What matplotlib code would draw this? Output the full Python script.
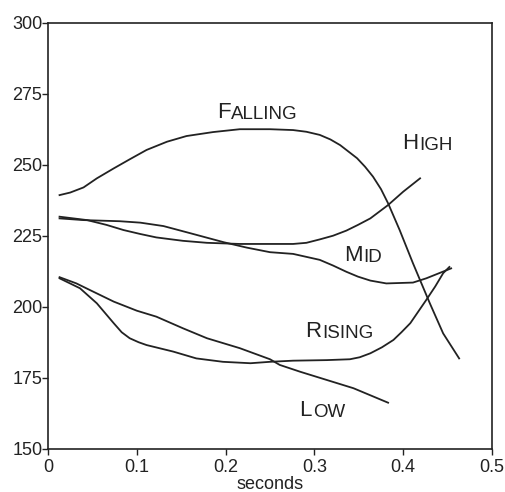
import numpy as np
import matplotlib
matplotlib.use('Agg')
import matplotlib.pyplot as plt

plt.rcParams['font.family'] = ['Liberation Sans', 'DejaVu Sans']

# pitch tracks (seconds, Hz)
falling_t = [0.013, 0.025, 0.040, 0.055, 0.074, 0.092, 0.111, 0.134, 0.156, 0.186, 0.216,
             0.250, 0.276, 0.291, 0.306, 0.318, 0.329, 0.348, 0.357, 0.366, 0.375, 0.383,
             0.396, 0.411, 0.430, 0.445, 0.463]
falling_f = [239.4, 240.3, 242.1, 245.3, 248.8, 252.0, 255.3, 258.2, 260.2, 261.6, 262.6,
             262.6, 262.3, 261.7, 260.6, 259.0, 257.0, 252.4, 249.4, 245.9, 241.5, 236.5,
             227.1, 215.4, 201.3, 190.7, 181.9]

high_t = [0.013, 0.044, 0.066, 0.085, 0.104, 0.122, 0.152, 0.179, 0.216, 0.250, 0.276,
          0.291, 0.306, 0.321, 0.336, 0.349, 0.363, 0.383, 0.400, 0.419]
high_f = [231.8, 230.6, 228.9, 227.1, 225.7, 224.5, 223.3, 222.6, 222.2, 222.2, 222.2,
          222.6, 223.8, 225.1, 226.9, 228.9, 231.2, 235.9, 240.6, 245.3]

mid_t = [0.013, 0.040, 0.081, 0.104, 0.130, 0.160, 0.198, 0.224, 0.250, 0.276, 0.306,
         0.321, 0.336, 0.349, 0.363, 0.381, 0.411, 0.426, 0.454]
mid_f = [231.2, 230.6, 230.2, 229.7, 228.5, 226.0, 222.8, 220.9, 219.3, 218.7, 216.6,
         214.6, 212.4, 210.7, 209.3, 208.3, 208.6, 210.1, 213.6]

rising_t = [0.013, 0.036, 0.055, 0.074, 0.083, 0.092, 0.102, 0.111, 0.141, 0.167, 0.197,
            0.228, 0.250, 0.276, 0.314, 0.340, 0.351, 0.363, 0.376, 0.389, 0.398, 0.408,
            0.417, 0.426, 0.436, 0.445, 0.452]
rising_f = [210.1, 206.6, 201.3, 194.3, 191.1, 189.0, 187.6, 186.6, 184.3, 181.9, 180.7,
            180.2, 180.7, 181.1, 181.3, 181.6, 182.3, 183.7, 185.8, 188.4, 191.1, 194.3,
            198.4, 202.5, 207.2, 211.9, 214.1]

low_t = [0.013, 0.032, 0.047, 0.074, 0.100, 0.122, 0.152, 0.179, 0.216, 0.250, 0.261,
         0.284, 0.314, 0.344, 0.383]
low_f = [210.5, 208.3, 206.0, 201.9, 198.7, 196.6, 192.5, 189.0, 185.5, 181.6, 179.6,
         177.2, 174.3, 171.4, 166.3]

labels = ['FALLING', 'HIGH', 'MID', 'RISING', 'LOW']
label_t = [0.190, 0.399, 0.333, 0.289, 0.283]
label_f = [266.5, 255.5, 216.2, 189.6, 161.6]

xticks = [0, 0.1, 0.2, 0.3, 0.4, 0.5]
xticklabels = ['0', '0.1', '0.2', '0.3', '0.4', '0.5']
yticks = [150, 175, 200, 225, 250, 275, 300]

fig = plt.figure(figsize=(5.06, 4.92), dpi=100)
ax = fig.add_axes([48/506, 1-449/492, 444/506, 426/492])

for t, f in [(falling_t, falling_f), (high_t, high_f), (mid_t, mid_f),
             (rising_t, rising_f), (low_t, low_f)]:
    ax.plot(t, f, color='#222222', lw=1.3, solid_joinstyle='round')

# small caps labels: big first letter, smaller rest
for word, x, y in zip(labels, label_t, label_f):
    first = ax.text(x, y, word[0], fontsize=16, ha='left', va='baseline', color='#222222')
    ax.annotate(word[1:], xy=(1, 0), xycoords=first, xytext=(0.8, 0),
                textcoords='offset points', fontsize=13.5,
                ha='left', va='bottom', color='#222222')

ax.set_xlim(0, 0.5)
ax.set_ylim(150, 300)
ax.set_xticks(xticks)
ax.set_xticklabels(xticklabels)
ax.set_yticks(yticks)
ax.tick_params(axis='both', labelsize=13, length=4, width=1.0, colors='#222222')
ax.tick_params(axis='y', pad=0)
ax.tick_params(axis='x', pad=3)
for s in ax.spines.values():
    s.set_linewidth(1.2)
    s.set_color('#222222')
ax.set_xlabel('seconds', fontsize=13, labelpad=0, color='#222222')

fig.savefig('out.png', dpi=100)
